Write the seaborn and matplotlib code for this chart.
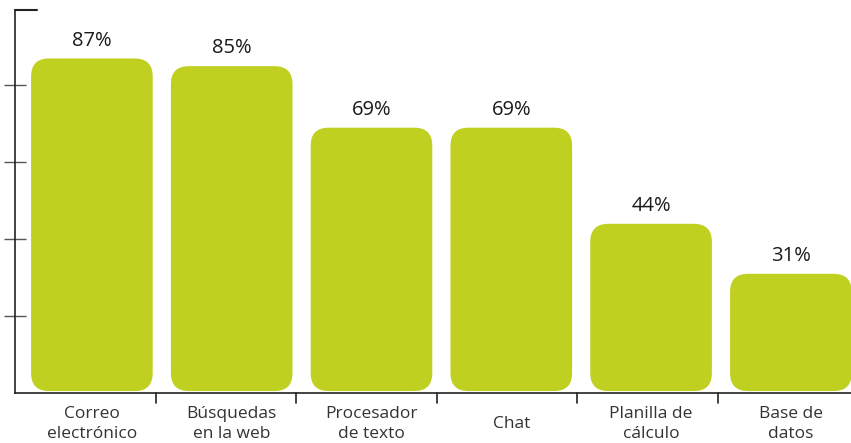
import matplotlib
matplotlib.use("Agg")
import matplotlib.pyplot as plt
import seaborn as sns
import pandas as pd
from matplotlib.patches import FancyBboxPatch

categories = ["Correo\nelectrónico", "Búsquedas\nen la web", "Procesador\nde texto",
              "Chat", "Planilla de\ncálculo", "Base de\ndatos"]
values = [87, 85, 69, 69, 44, 31]
value_labels = ["87%", "85%", "69%", "69%", "44%", "31%"]

bar_color = "#C0D021"

sns.set_theme(style="white")
plt.rcParams['font.family'] = ['Open Sans', 'DejaVu Sans']

fig = plt.figure(figsize=(8.51, 4.43), dpi=100)
ax = fig.add_axes([15/851, 1-393/443, 1-15/851, (393-10)/443])

df = pd.DataFrame({"cat": categories, "val": values})
sns.barplot(data=df, x="cat", y="val", color=bar_color, width=0.87, ax=ax,
            saturation=1)

ymax = 99.6
ax.set_xlim(-0.55, 5.43)
ax.set_ylim(0, ymax)

# replace bars by rounded ones (floating slightly above the axis)
gap = 0.5
xpx = 836/(5.43+0.55)
ypx = 383/ymax
aspect = xpx/ypx
for p in list(ax.patches):
    x, y = p.get_x(), p.get_y()
    w, h = p.get_width(), p.get_height()
    p.remove()
    r = 18/xpx
    fb = FancyBboxPatch((x, y + gap), w, h - gap,
                        boxstyle=f"round,pad=0,rounding_size={r}",
                        mutation_aspect=aspect,
                        facecolor=bar_color, edgecolor="none", zorder=2)
    ax.add_patch(fb)

for i, (v, lab) in enumerate(zip(values, value_labels)):
    ax.text(i, v + 2.0, lab, ha="center", va="bottom", fontsize=14.5, color="#1a1a1a")

for s in ["top", "right"]:
    ax.spines[s].set_visible(False)
for s in ["left", "bottom"]:
    ax.spines[s].set_visible(True)
    ax.spines[s].set_color("#222222")
    ax.spines[s].set_linewidth(1.2)

ax.set_yticks([20, 40, 60, 80])
ax.set_yticklabels([])
ax.tick_params(axis="y", direction="inout", length=16, width=1, color="#555555", left=True)
ax.axhline(ymax, xmin=0, xmax=22/836, color="#222222", lw=1.5, clip_on=False)

ax.set_xticks([0, 1, 2, 3, 4, 5])
ax.set_xticklabels(categories, fontsize=12.5, color="#333333", linespacing=1.36)
ax.tick_params(axis="x", length=0, pad=22.5)
for t in ax.get_xticklabels():
    t.set_verticalalignment("center")
for xt in [0.46, 1.46, 2.47, 3.47, 4.48]:
    ax.plot([xt, xt], [0, -2.6], color="#222222", lw=1.2, clip_on=False)

ax.set_xlabel("")
ax.set_ylabel("")

fig.savefig("out.png", dpi=100)
